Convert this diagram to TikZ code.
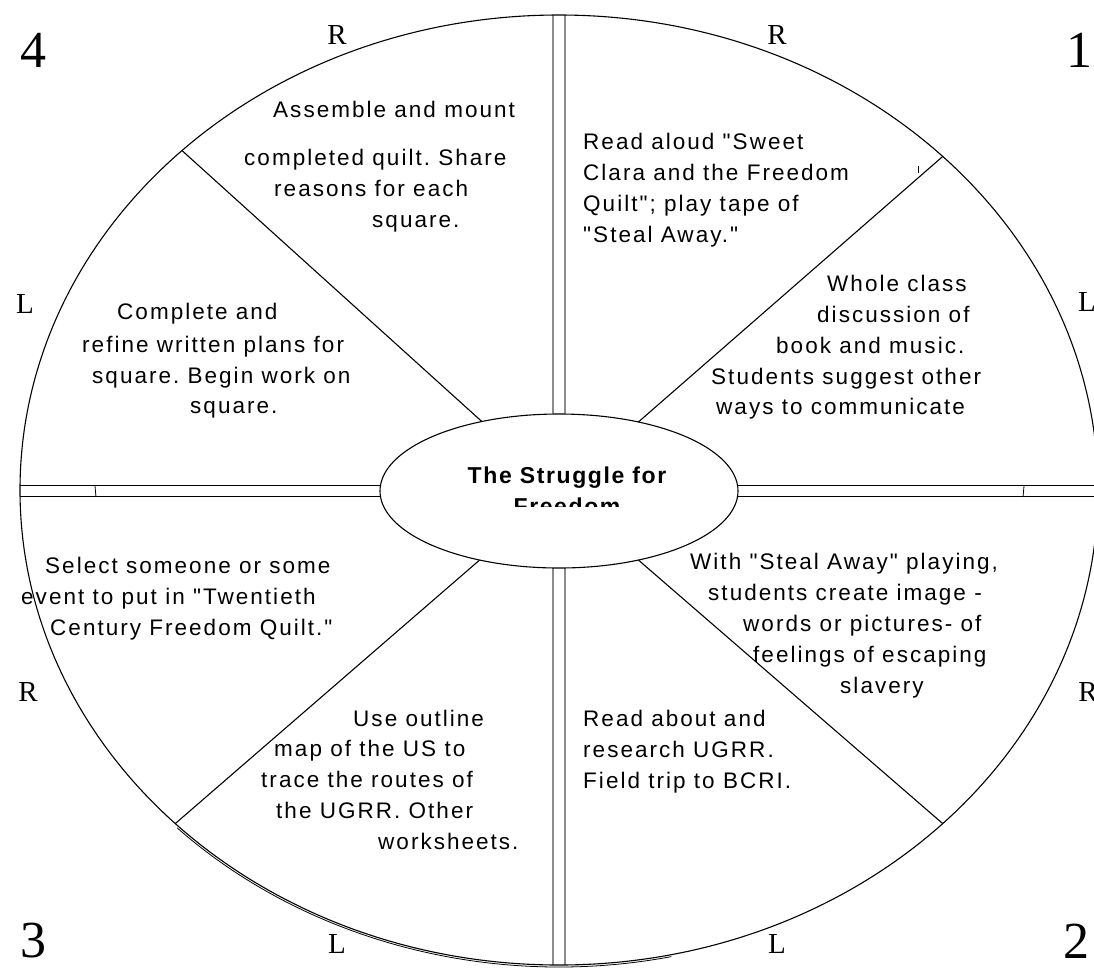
\documentclass[tikz,border=0pt]{standalone}
\usepackage{fontspec}
\usetikzlibrary{shapes.geometric}
\newfontfamily\bodyfont[LetterSpace=9,Ligatures=TeXOff]{Liberation Sans}
\newfontfamily\titlefont[LetterSpace=7,Ligatures=TeXOff]{Liberation Sans}
\newfontfamily\seriff{Liberation Serif}
\begin{document}
\begin{tikzpicture}[x=1pt,y=-1pt,
  txt/.style={anchor=base west, inner sep=0pt, font=\bodyfont\frenchspacing\fontsize{22.5}{26}\selectfont},
  ttl/.style={anchor=base, inner sep=0pt, font=\titlefont\bfseries\fontsize{23}{27}\selectfont},
  lbl/.style={inner sep=0pt, font=\seriff\fontsize{29}{32}\selectfont},
  num/.style={inner sep=0pt, font=\seriff\fontsize{52}{56}\selectfont},
  ln/.style={line width=1.1pt},
  dblv/.style={draw=gray!90, line width=1.1pt, double=white, double distance=10.9pt},
  dblh/.style={draw=black, line width=1.1pt, double=white, double distance=9.9pt},
  oval/.style={draw, ellipse, line width=1.1pt, inner sep=0pt}]
\useasboundingbox (0,0) rectangle (1094,970);
\clip (0,0) rectangle (1094,970);

% shapes (placed only)
\node[ellipse, inner sep=0pt, minimum width=1078pt, minimum height=950pt] (rim) at (559,490) {};
\node[ellipse, inner sep=0pt, minimum width=358pt, minimum height=154pt] (hub) at (559,491) {};
\coordinate (rimE) at (1100,491);
\coordinate (rimW) at (20,491);

% double dividers
\draw[dblv] (rim.north) -- (hub.north);
\draw[dblv] (hub.south) -- (rim.south);
\draw[dblh] (rimW) -- (hub.west);
\draw[dblh] (hub.east) -- (rimE);

% outlines
\node[oval, minimum width=1078pt, minimum height=950pt] (rimline) at (559,490) {};
\node[oval, minimum width=358pt, minimum height=154pt] (hubline) at (559,491) {};
\coordinate (c2) at (559,492);
\draw[line width=0.8pt] (c2) ++(225:540pt and 475pt) arc[start angle=225, end angle=282, x radius=540pt, y radius=475pt];

% spokes
\draw[ln] (hub.41.39) -- (rim.41.39);
\draw[ln] (hub.138.61) -- (rim.138.61);
\draw[ln] (hub.221.39) -- (rim.221.39);
\draw[ln] (hub.-41.39) -- (rim.-41.39);

% small ticks
\coordinate (k1a) at (95,486); \coordinate (k1b) at (96,497);
\coordinate (k2a) at (1024,486); \coordinate (k2b) at (1023,497);
\coordinate (k3a) at (918,166); \coordinate (k3b) at (918,173);
\draw[line width=0.8pt] (k1a) -- (k1b);
\draw[line width=0.8pt] (k2a) -- (k2b);
\draw[line width=0.8pt] (k3a) -- (k3b);

% title
\begin{scope}
\clip (380,414) rectangle (738,506);
\node[ttl] (title1) at (567,483) {The Struggle for};
\node[ttl] (title2) at (567,514) {Freedom};
\end{scope}

% sector A
\node[txt] (a1) at (273,117) {Assemble and mount};
\node[txt] (a2) at (244,165) {completed quilt. Share};
\node[txt] (a3) at (274,196) {reasons for each};
\node[txt] (a4) at (372,227) {square.};
% sector B
\node[txt] (b1) at (583,149) {Read aloud "Sweet};
\node[txt] (b2) at (583,180) {Clara and the Freedom};
\node[txt] (b3) at (583,211) {Quilt"; play tape of};
\node[txt] (b4) at (583,242) {"Steal Away."};
% sector C
\node[txt] (c1) at (117,319) {Complete and};
\node[txt] (cc2) at (82,352) {refine written plans for};
\node[txt] (c3) at (92,383) {square. Begin work on};
\node[txt] (c4) at (190,413) {square.};
% sector D
\node[txt] (d1) at (827,291) {Whole class};
\node[txt] (d2) at (817,322) {discussion of};
\node[txt] (d3) at (776,353) {book and music.};
\node[txt] (d4) at (711,384) {Students suggest other};
\node[txt] (d5) at (716,414) {ways to communicate};
% sector E
\node[txt] (e1) at (45,573) {Select someone or some};
\node[txt] (e2) at (21,604) {event to put in "Twentieth};
\node[txt] (e3) at (50,635) {Century Freedom Quilt."};
% sector F
\node[txt] (f1) at (690,569) {With "Steal Away" playing,};
\node[txt] (f2) at (708,600) {students create image -};
\node[txt] (f3) at (743,631) {words or pictures- of};
\node[txt] (f4) at (753,662) {feelings of escaping};
\node[txt] (f5) at (840,693) {slavery};
% sector G
\node[txt] (g1) at (353,726) {Use outline};
\node[txt] (g2) at (274,756) {map of the US to};
\node[txt] (g3) at (261,787) {trace the routes of};
\node[txt] (g4) at (276,818) {the UGRR. Other};
\node[txt] (g5) at (378,849) {worksheets.};
% sector H
\node[txt] (h1) at (583,726) {Read about and};
\node[txt] (h2) at (583,757) {research UGRR.};
\node[txt] (h3) at (583,788) {Field trip to BCRI.};

% side labels
\node[lbl] (lr1) at (337,35) {R};
\node[lbl] (lr2) at (777,35) {R};
\node[lbl] (ll1) at (25,304) {L};
\node[lbl] (ll2) at (1087,302) {L};
\node[lbl] (lr3) at (28,692) {R};
\node[lbl] (lr4) at (1088,692) {R};
\node[lbl] (ll3) at (337,944) {L};
\node[lbl] (ll4) at (777,944) {L};
% corner numbers
\node[num] (n4) at (33,50) {4};
\node[num] (n1) at (1079,50) {1};
\node[num] (n3) at (33,941) {3};
\node[num] (n2) at (1076,941) {2};
\end{tikzpicture}
\end{document}
